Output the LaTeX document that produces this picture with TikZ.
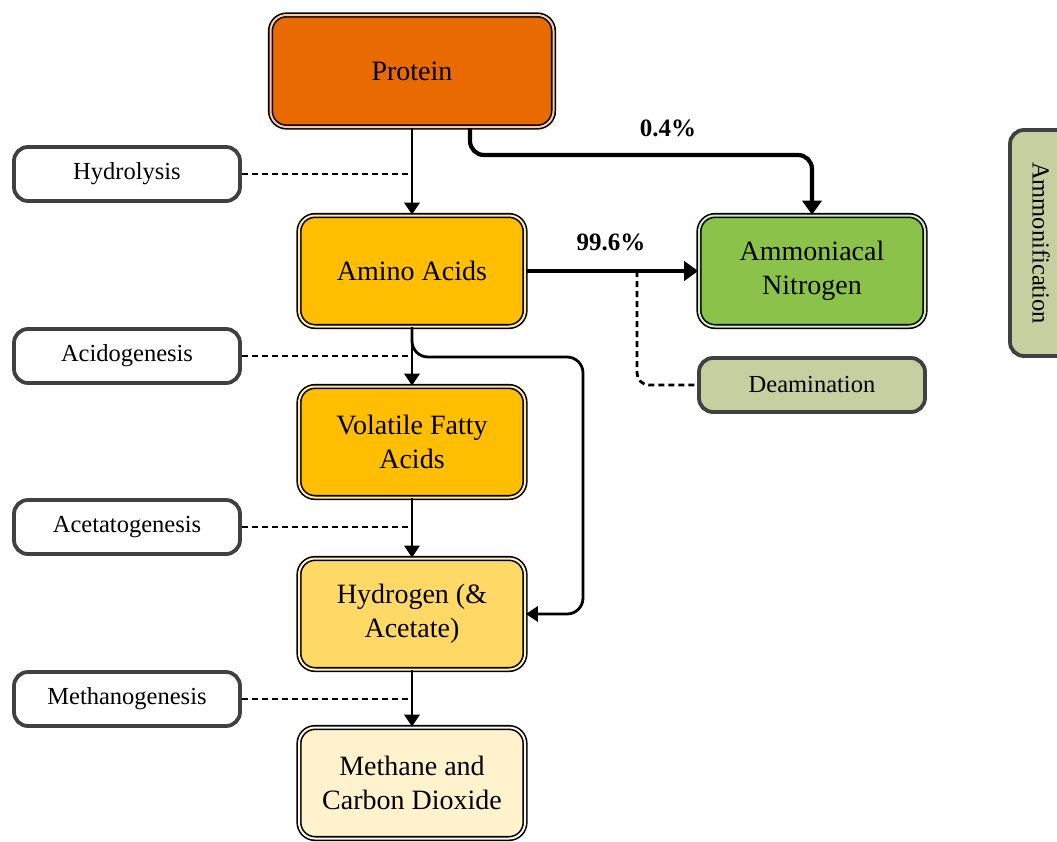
\documentclass[tikz,border=0pt]{standalone}
\usepackage{fontspec}
\setmainfont{Liberation Serif}
\usetikzlibrary{arrows.meta}
\definecolor{cprot}{HTML}{E96A00}
\definecolor{camino}{HTML}{FFBF00}
\definecolor{chyd}{HTML}{FFD966}
\definecolor{cmeth}{HTML}{FFF2CC}
\definecolor{cammn}{HTML}{8BC34A}
\definecolor{cdeam}{HTML}{C5CF9F}
\definecolor{cgray}{HTML}{404040}
\tikzset{
  mainbox/.style={draw=black, line width=1.6pt, double=#1!35, double distance=2pt,
    fill=#1, rounded corners=16pt, minimum width=226pt, minimum height=111pt,
    align=center, font=\fontsize{28}{34}\selectfont, text=black},
  labelbox/.style={draw=cgray, line width=3.8pt, fill=#1, rounded corners=14pt,
    minimum width=226pt, minimum height=54pt, align=center,
    font=\fontsize{24.5}{29}\selectfont},
  conn/.style={line width=2.8pt, -{Triangle[width=15pt,length=12pt]}},
  thickconn/.style={line width=4.2pt, -{Triangle[width=19pt,length=14pt]}},
  dashconn/.style={line width=2.8pt, dash pattern=on 6pt off 4pt},
  pct/.style={font=\fontsize{25}{30}\selectfont\bfseries}
}
\begin{document}
\begin{tikzpicture}[x=1pt,y=-1pt]
\useasboundingbox (0,0) rectangle (1057,841);
% main chain
\node[mainbox=cprot, minimum width=283pt, minimum height=112pt] (P) at (412,71) {Protein};
\node[mainbox=camino] (AA) at (412,271) {Amino Acids};
\node[mainbox=camino] (V) at (412,442) {Volatile Fatty\\Acids};
\node[mainbox=chyd] (H) at (412,614) {Hydrogen (\&\\Acetate)};
\node[mainbox=cmeth] (M) at (412,783) {Methane and\\Carbon Dioxide};
\node[mainbox=cammn] (AN) at (812,271) {Ammoniacal\\Nitrogen};
% labels
\node[labelbox=white] (Hy) at (127,174) {Hydrolysis};
\node[labelbox=white] (Ac) at (127,356) {Acidogenesis};
\node[labelbox=white] (At) at (127,527) {Acetatogenesis};
\node[labelbox=white] (Me) at (127,699) {Methanogenesis};
\node[labelbox=cdeam] (De) at (812,385) {Deamination};
\node[labelbox=cdeam, minimum width=226pt, minimum height=62pt, rotate=-90] (Am) at (1041,243) {Ammonification};
% coordinates
\coordinate (c1) at (812,155);
\coordinate (c2) at (583,357);
\coordinate (d0) at (637,271);
\coordinate (p0) at (470,128);
% arrows
\draw[conn] (P.south) -- (AA.north);
\draw[conn] (AA.south) -- (V.north);
\draw[conn] (V.south) -- (H.north);
\draw[conn] (H.south) -- (M.north);
\draw[thickconn, rounded corners=14pt] (p0) |- (c1) -- (AN.north);
\draw[thickconn] (AA.east) -- (AN.west);
\draw[conn, rounded corners=16pt] (AA.south) |- (c2) |- (H.east);
\node[pct] (p1) at (668,128) {0.4\%};
\node[pct] (p2) at (611,242) {99.6\%};
% dashed
\draw[dashconn] (Hy.east) -- (Hy.east -| P.south);
\draw[dashconn] (Ac.east) -- (Ac.east -| AA.south);
\draw[dashconn] (At.east) -- (At.east -| V.south);
\draw[dashconn] (Me.east) -- (Me.east -| H.south);
\draw[dashconn, rounded corners=12pt] (d0) |- (De.west);
\end{tikzpicture}
\end{document}
